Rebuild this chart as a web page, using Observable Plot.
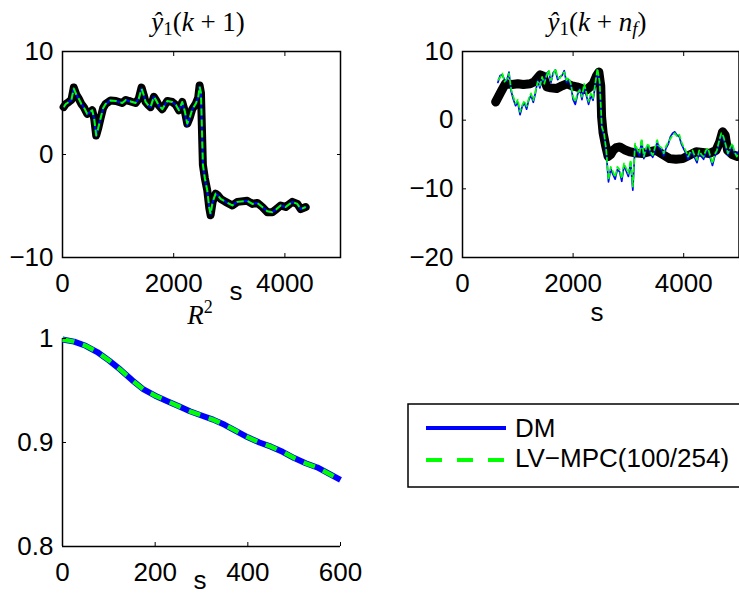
<!DOCTYPE html>
<html><head><meta charset="utf-8">
<script src="https://cdn.jsdelivr.net/npm/d3@7"></script>
<script src="https://cdn.jsdelivr.net/npm/@observablehq/plot@0.6"></script>
<style>
html,body{margin:0;padding:0;background:#fff;overflow:hidden;}
#wrap{position:relative;width:739px;height:599px;overflow:hidden;font-family:"Liberation Sans",Arial,sans-serif;}
.pane{position:absolute;}
#overlay{position:absolute;left:0;top:0;pointer-events:none;}
</style></head><body><div id="wrap"></div>
<script>
// ---------- top-left panel: y1(k+1) ----------
const tlX = [20,60,113,160,203,250,294,340,383,444,490,534,570,606,640,684,730,774,864,960,1074,1140,1194,1254,1314,1370,1422,1460,1494,1540,1584,1644,1690,1734,1794,1840,1884,1974,2040,2094,2154,2200,2244,2290,2334,2394,2440,2466,2490,2510,2525,2560,2604,2640,2664,2700,2754,2800,2844,2934,3054,3144,3324,3414,3504,3594,3684,3774,3850,3924,4014,4134,4224,4284,4374];
const tlMeasured = [4.6,4.9,5.1,5.3,6.5,5.8,5.4,4.9,4.6,3.95,4.1,4.3,3.5,1.85,2.5,3.5,4.5,4.9,5.25,5.2,5.0,5.3,5.2,5.1,5.0,5.4,6.5,5.8,5.1,4.8,4.6,5.6,5.2,4.75,4.4,4.8,5.2,5.1,4.8,4.3,5.1,4.2,3.0,3.6,4.4,4.9,5.5,6.7,6.0,2.0,-1.0,-2.3,-3.5,-5.2,-5.9,-4.6,-3.8,-4.0,-4.3,-4.6,-4.95,-4.6,-4.5,-4.8,-4.7,-5.1,-5.6,-5.6,-5.3,-4.95,-5.1,-4.6,-4.8,-5.3,-5.1];
const tlDM = [4.6,4.9,5.1,5.3,6.4,5.8,5.4,4.9,4.6,3.9,4.1,4.3,3.5,1.8,2.5,3.5,4.5,4.9,5.25,5.2,5.0,5.3,5.2,5.1,5.0,5.4,6.4,5.8,5.1,4.8,4.6,5.6,5.2,4.75,4.4,4.8,5.2,5.1,4.8,4.3,5.1,4.1,2.8,3.6,4.4,4.9,5.5,6.6,6.0,2.0,-1.0,-2.3,-3.5,-5.2,-5.8,-4.6,-3.8,-4.0,-4.3,-4.6,-4.95,-4.6,-4.5,-4.8,-4.7,-5.1,-5.5,-5.6,-5.3,-4.95,-5.1,-4.6,-4.8,-5.3,-5.1];
const tlLV = [4.6,4.9,5.1,5.3,6.4,5.8,5.4,4.9,4.6,3.95,4.1,4.3,3.5,1.85,2.5,3.5,4.5,4.9,5.25,5.2,5.0,5.3,5.2,5.1,5.0,5.4,6.4,5.8,5.1,4.8,4.6,5.6,5.2,4.75,4.4,4.8,5.2,5.1,4.8,4.3,5.1,4.2,3.0,3.6,4.4,4.9,5.5,6.6,6.0,2.0,-1.0,-2.3,-3.5,-5.2,-5.8,-4.6,-3.8,-4.0,-4.3,-4.6,-4.95,-4.6,-4.5,-4.8,-4.7,-5.1,-5.5,-5.6,-5.3,-4.95,-5.1,-4.6,-4.8,-5.3,-5.1];

// ---------- top-right panel: y1(k+nf) ----------
const trMeasX = [600,700,774,900,1000,1100,1224,1300,1404,1460,1525,1600,1705,1800,1885,1980,2065,2160,2245,2300,2363,2420,2466,2500,2515,2543,2590,2633,2680,2723,2780,2844,2930,3024,3150,3263,3380,3505,3620,3744,3860,3983,4100,4225,4340,4464,4585,4650,4703,4750,4793,4880,4973];
const trMeasured = [2.66,4.2,5.3,5.2,5.3,5.2,5.3,5.6,6.6,6.4,4.85,4.7,4.6,5.0,5.3,5.0,4.85,4.6,4.4,4.8,5.3,6.4,7.0,5.0,0.5,-1.9,-3.8,-5.3,-5.0,-4.4,-4.0,-3.9,-4.3,-4.6,-4.8,-4.85,-4.6,-4.4,-5.0,-5.6,-5.7,-5.6,-5.1,-4.6,-4.7,-4.85,-4.4,-3.2,-1.7,-2.2,-4.4,-5.0,-5.3];
// predictions sampled every 40 s starting at 640 s
const trPredStart = 640, trPredStep = 40;
const trDM = [5.5,6.5,6.6,5.9,5.7,7.0,4.2,3.0,2.1,2.6,0.8,2.0,2.5,1.6,3.0,3.6,2.6,4.0,5.8,4.7,6.0,5.5,6.8,7.1,5.5,6.9,7.3,5.9,6.3,6.5,7.2,5.5,5.9,5.0,3.0,2.3,3.7,4.6,3.0,5.0,3.6,2.3,3.6,2.9,5.0,7.3,5.3,-1.3,-2.2,-4.8,-9.0,-7.1,-7.9,-8.6,-7.2,-7.5,-8.9,-6.6,-7.4,-8.2,-6.2,-10.2,-3.7,-4.5,-5.2,-3.0,-5.6,-4.3,-3.7,-4.9,-5.4,-4.3,-3.2,-4.1,-4.3,-5.2,-4.1,-3.5,-2.4,-1.9,-1.7,-2.2,-2.4,-3.5,-4.2,-4.8,-5.7,-4.9,-4.7,-5.5,-6.2,-4.7,-5.3,-5.7,-4.7,-4.4,-5.5,-6.6,-5.3,-4.7,-3.3,-2.2,-2.7,-3.9,-5.1,-4.3,-3.7,-4.9,-5.0,-4.5];
const trLV = [5.8,6.2,6.8,5.6,6.0,6.8,4.5,3.4,2.4,3.0,1.2,2.2,2.8,2.0,3.2,3.9,2.9,4.2,5.6,5.0,6.3,5.3,6.5,7.3,5.8,6.6,7.5,6.2,6.1,6.8,7.0,5.8,6.2,5.3,3.4,2.7,4.0,4.4,3.4,5.3,4.0,2.7,3.9,3.2,5.3,7.5,5.6,-1.0,-1.9,-4.4,-8.7,-6.8,-7.5,-8.3,-6.8,-7.2,-8.5,-6.3,-7.0,-7.8,-5.8,-9.7,-3.4,-4.2,-4.85,-2.7,-5.3,-4.0,-3.4,-4.6,-5.1,-4.0,-2.9,-3.8,-4.0,-4.85,-3.8,-3.2,-2.7,-2.2,-1.9,-2.4,-2.1,-3.2,-3.9,-4.5,-5.3,-4.6,-4.4,-5.2,-5.8,-4.4,-5.0,-5.3,-4.4,-4.1,-5.2,-6.3,-5.0,-4.4,-3.0,-1.9,-2.4,-3.6,-4.85,-4.0,-3.4,-4.6,-5.3,-4.8];

// ---------- bottom panel: R^2 ----------
const r2X = [0,25,50,75,100,125,150,175,200,225,250,275,300,325,350,375,400,425,450,475,500,525,550,575,600];
const r2DM = [0.999,0.997,0.993,0.987,0.979,0.970,0.960,0.951,0.945,0.940,0.935,0.930,0.926,0.922,0.917,0.911,0.905,0.900,0.896,0.891,0.885,0.880,0.876,0.870,0.864];
const r2LV = [0.999,0.997,0.993,0.987,0.979,0.970,0.960,0.951,0.945,0.940,0.935,0.930,0.926,0.922,0.917,0.911,0.905,0.900,0.896,0.891,0.885,0.880,0.876,0.870,0.864];

// ---------- ticks / labels ----------
const topXTicks = [0, 2000, 4000];
const tlYTicks = [-10, 0, 10];
const trYTicks = [-20, -10, 0, 10];
const r2XTicks = [0, 200, 400, 600];
const r2YTicks = [0.8, 0.9, 1];
const legendLabels = ["DM", "LV\u2212MPC(100/254)"];

const BLUE = "#0000ff", GREEN = "#00ff00";
const fmt = d => String(d).replace("-", "\u2212");
const style = {fontFamily: '"Liberation Sans", Arial, sans-serif', fontSize: "26px", color: "black", background: "transparent", overflow: "visible"};

const zip = (xs, ys) => xs.map((x, i) => ({x, y: ys[i]}));
const predRows = ys => ys.map((y, i) => ({x: trPredStart + i * trPredStep, y}));

function boxAxes(xTicks, yTicks) {
  return [
    Plot.frame({stroke: "black", strokeWidth: 1.5}),
    Plot.axisX({anchor: "bottom", ticks: xTicks, tickSize: 0, tickPadding: 16, tickFormat: fmt, label: null}),
    Plot.axisX({anchor: "bottom", ticks: xTicks, tickSize: -4, fill: "none", label: null}),
    Plot.axisX({anchor: "top", ticks: xTicks, tickSize: -4, fill: "none", label: null}),
    Plot.axisY({anchor: "left", ticks: yTicks, tickSize: 0, tickPadding: 9, tickFormat: fmt, label: null}),
    Plot.axisY({anchor: "left", ticks: yTicks, tickSize: -4, fill: "none", label: null}),
    Plot.axisY({anchor: "right", ticks: yTicks, tickSize: -4, fill: "none", label: null})
  ];
}

const wrap = document.getElementById("wrap");
function place(el, left, top) { el.classList.add("pane"); el.style.left = left + "px"; el.style.top = top + "px"; wrap.appendChild(el); }

// top-left
const p1 = Plot.plot({
  width: 370, height: 300, marginLeft: 62, marginRight: 30, marginTop: 51, marginBottom: 43,
  style,
  x: {domain: [0, 5000]}, y: {domain: [-10, 10]},
  marks: [
    Plot.line(zip(tlX, tlMeasured), {x: "x", y: "y", stroke: "black", strokeWidth: 8, strokeLinejoin: "round", strokeLinecap: "round"}),
    Plot.line(zip(tlX, tlDM), {x: "x", y: "y", stroke: BLUE, strokeWidth: 2}),
    Plot.line(zip(tlX, tlLV), {x: "x", y: "y", stroke: GREEN, strokeWidth: 2, strokeDasharray: "7,4", strokeLinecap: "butt"}),
    ...boxAxes(topXTicks, tlYTicks)
  ]
});
place(p1, 0, 0);

// top-right
const p2 = Plot.plot({
  width: 370, height: 300, marginLeft: 92, marginRight: 1.5, marginTop: 51, marginBottom: 43,
  style,
  x: {domain: [0, 5000]}, y: {domain: [-20, 10]},
  marks: [
    Plot.line(zip(trMeasX, trMeasured), {x: "x", y: "y", stroke: "black", strokeWidth: 9, strokeLinejoin: "round"}),
    Plot.line(predRows(trDM), {x: "x", y: "y", stroke: BLUE, strokeWidth: 1.7}),
    Plot.line(predRows(trLV), {x: "x", y: "y", stroke: GREEN, strokeWidth: 1.7, strokeDasharray: "6,2", strokeLinecap: "butt"}),
    ...boxAxes(topXTicks, trYTicks)
  ]
});
place(p2, 370, 0);

// bottom R^2
const p3 = Plot.plot({
  width: 370, height: 299, marginLeft: 62, marginRight: 30, marginTop: 38, marginBottom: 53,
  style,
  x: {domain: [0, 600]}, y: {domain: [0.8, 1]},
  marks: [
    Plot.ruleX([0], {stroke: "black", strokeWidth: 1.5}),
    Plot.ruleY([0.8], {stroke: "black", strokeWidth: 1.5}),
    Plot.line(zip(r2X, r2DM), {x: "x", y: "y", stroke: BLUE, strokeWidth: 6, strokeLinecap: "butt"}),
    Plot.line(zip(r2X, r2LV), {x: "x", y: "y", stroke: GREEN, strokeWidth: 4.5, strokeDasharray: "12,9", strokeLinecap: "butt"}),
    Plot.axisX({anchor: "bottom", ticks: r2XTicks, tickSize: 0, tickPadding: 16, tickFormat: fmt, label: null}),
    Plot.axisX({anchor: "bottom", ticks: r2XTicks, tickSize: -4, fill: "none", label: null}),
    Plot.axisY({anchor: "left", ticks: r2YTicks, tickSize: 0, tickPadding: 9, tickFormat: fmt, label: null}),
    Plot.axisY({anchor: "left", ticks: r2YTicks, tickSize: -4, fill: "none", label: null})
  ]
});
place(p3, 0, 300);

// overlay: titles, axis labels, legend
const ns = "http://www.w3.org/2000/svg";
const ov = document.createElementNS(ns, "svg");
ov.setAttribute("id", "overlay");
ov.setAttribute("width", 739); ov.setAttribute("height", 599);
ov.innerHTML = `
 <g font-family="'Liberation Serif', serif" font-size="27" fill="black" text-anchor="middle">
  <text x="198" y="31"><tspan font-style="italic">ŷ</tspan><tspan font-size="19" dy="4">1</tspan><tspan dy="-4">(</tspan><tspan font-style="italic">k</tspan><tspan> + 1)</tspan></text>
  <text x="597" y="31"><tspan font-style="italic">ŷ</tspan><tspan font-size="19" dy="4">1</tspan><tspan dy="-4">(</tspan><tspan font-style="italic">k</tspan><tspan> + </tspan><tspan font-style="italic">n</tspan><tspan font-size="19" font-style="italic" dy="4">f</tspan><tspan dy="-4">)</tspan></text>
  <text x="200" y="324"><tspan font-style="italic">R</tspan><tspan font-size="18" dy="-11">2</tspan></text>
 </g>
 <g font-family="'Liberation Sans', Arial, sans-serif" font-size="26" fill="black" text-anchor="middle">
  <text x="236" y="300">s</text>
  <text x="597" y="321">s</text>
  <text x="200" y="589">s</text>
 </g>
 <g>
  <rect x="408" y="404" width="400" height="83" fill="white" stroke="black" stroke-width="1.5"/>
  <line x1="426" x2="506" y1="428" y2="428" stroke="${BLUE}" stroke-width="4"/>
  <line x1="426" x2="506" y1="460" y2="460" stroke="${GREEN}" stroke-width="4" stroke-dasharray="16,15"/>
  <text x="515" y="437" font-family="'Liberation Sans', Arial, sans-serif" font-size="26">${legendLabels[0]}</text>
  <text x="515" y="467" font-family="'Liberation Sans', Arial, sans-serif" font-size="26">${legendLabels[1]}</text>
 </g>`;
wrap.appendChild(ov);
</script></body></html>
